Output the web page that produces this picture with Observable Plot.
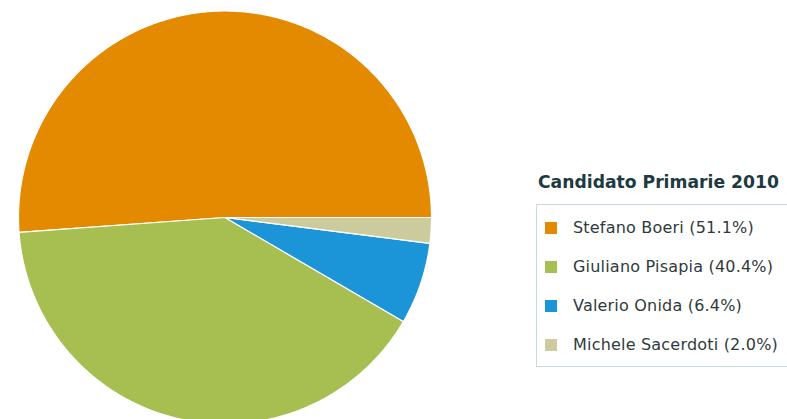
<!DOCTYPE html>
<html>
<head>
<meta charset="utf-8">
<script src="https://cdn.jsdelivr.net/npm/d3@7"></script>
<script src="https://cdn.jsdelivr.net/npm/@observablehq/plot@0.6"></script>
<style>
  html, body { margin: 0; padding: 0; background: #fff; }
  #wrap { position: relative; width: 787px; height: 419px; overflow: hidden; }
  #legend-title { position: absolute; left: 538px; top: 172px; font-family: "DejaVu Sans", sans-serif; font-weight: bold; font-size: 17.2px; color: #1d3a40; white-space: nowrap; }
  #legend-box { position: absolute; left: 536px; top: 204px; width: 300px; height: 163px; border: 1px solid #c9d9e0; box-sizing: border-box; }
  .item { position: absolute; left: 8px; font-family: "DejaVu Sans", sans-serif; font-size: 16px; letter-spacing: 0.2px; color: #2f3a3d; white-space: nowrap; display: flex; align-items: center; }
  .sw { width: 12px; height: 12px; margin-right: 16px; }
</style>
</head>
<body>
<div id="wrap">
  <div id="chart"></div>
  <div id="legend-title"></div>
  <div id="legend-box"></div>
</div>
<script>
const legendTitle = "Candidato Primarie 2010";
const candidates = ["Stefano Boeri", "Giuliano Pisapia", "Valerio Onida", "Michele Sacerdoti"];
const shares = [51.1, 40.4, 6.4, 2.0];
const colors = ["#e38a00", "#a7be51", "#1c94d8", "#cccb9e"];

// Build slice outlines from the data (counterclockwise from 3 o'clock)
const total = d3.sum(shares);
const pts = [];
let acc = 0;
candidates.forEach((name, i) => {
  const a0 = acc / total * 2 * Math.PI;
  acc += shares[i];
  const a1 = acc / total * 2 * Math.PI;
  pts.push({name, x: 0, y: 0});
  const n = Math.max(4, Math.ceil((a1 - a0) / (2 * Math.PI) * 720));
  for (let k = 0; k <= n; k++) {
    const a = a0 + (a1 - a0) * k / n;
    pts.push({name, x: Math.cos(a), y: Math.sin(a)});
  }
});

const chart = Plot.plot({
  width: 787,
  height: 419,
  margin: 0,
  x: {domain: [-1, 1], range: [18, 431], axis: null},
  y: {domain: [-1, 1], range: [423.5, 10.5], axis: null},
  color: {domain: candidates, range: colors},
  marks: [
    Plot.line(pts, {x: "x", y: "y", z: "name", fill: "name", stroke: "white", strokeWidth: 1.2, curve: "linear-closed"})
  ]
});
document.getElementById("chart").appendChild(chart);

document.getElementById("legend-title").textContent = legendTitle;
const box = document.getElementById("legend-box");
candidates.forEach((name, i) => {
  const div = document.createElement("div");
  div.className = "item";
  div.style.top = (13 + i * 39) + "px";
  const sw = document.createElement("span");
  sw.className = "sw";
  sw.style.background = colors[i];
  div.appendChild(sw);
  const t = document.createElement("span");
  t.textContent = `${name} (${shares[i].toFixed(1)}%)`;
  div.appendChild(t);
  box.appendChild(div);
});
</script>
</body>
</html>
